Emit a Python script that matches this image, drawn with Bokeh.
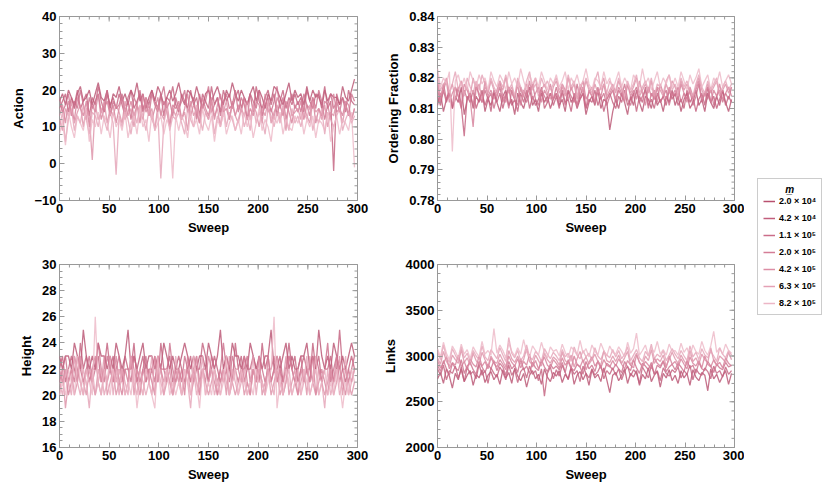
import numpy as np
from bokeh.plotting import figure
from bokeh.models import FixedTicker, Legend, LegendItem, Range1d, NumeralTickFormatter
from bokeh.layouts import row, column
from bokeh.embed import file_html
from bokeh.resources import INLINE

# ---------------- data ----------------
sweeps = list(range(0, 300, 3))
masses = ["2.0 × 10⁴", "4.2 × 10⁴", "1.1 × 10⁵", "2.0 × 10⁵", "4.2 × 10⁵", "6.3 × 10⁵", "8.2 × 10⁵"]

action_1 = [17,19,16,20,18,15,19,21,17,18,20,16,19,22,18,17,20,15,19,18,
            21,17,19,16,20,18,22,17,19,15,18,20,17,21,19,16,18,20,17,19,
            22,18,16,20,19,17,21,18,15,19,20,17,19,21,18,16,20,18,22,19,
            17,20,18,16,19,21,17,20,18,15,19,17,21,20,18,16,19,22,17,20,
            18,19,16,21,17,20,18,19,15,20,17,19,18,18,16,21,18,17,20,23]
action_2 = [15,17,19,14,18,16,20,15,17,19,13,18,16,21,17,14,19,16,18,15,
            19,16,13,18,20,15,17,19,14,18,16,20,17,15,19,13,18,17,21,16,
            14,19,17,15,20,16,18,13,19,17,15,21,16,18,14,20,17,19,15,18,
            20,15,18,16,19,14,21,17,15,18,20,16,19,13,17,20,15,18,16,19,
            16,18,14,20,17,15,19,18,16,21,15,17,-2,19,16,18,14,20,17,16]
action_3 = [18,14,16,19,13,17,15,20,16,12,18,15,17,19,14,16,20,13,17,15,
            16,19,14,17,12,18,16,20,15,17,13,19,16,14,18,21,15,17,13,18,
            15,17,20,14,16,18,12,19,15,17,21,14,16,18,13,17,19,15,16,20,
            14,18,16,12,19,17,15,20,13,16,18,14,17,21,15,18,12,16,19,15,
            17,14,19,16,13,18,15,20,17,12,16,19,15,17,14,18,16,13,19,17]
action_4 = [13,16,11,17,14,12,18,15,13,17,10,16,14,19,12,15,17,13,16,11,
            15,18,12,14,17,13,16,11,19,14,16,12,15,18,13,17,14,10,16,15,
            17,12,15,19,13,16,14,11,18,15,13,17,12,16,19,14,15,12,17,13,
            16,14,18,12,15,13,17,16,11,19,14,15,12,18,16,13,17,14,11,16,
            14,17,12,16,15,18,11,15,13,17,16,12,19,14,15,13,17,16,12,15]
action_5 = [12,9,15,13,17,11,14,16,10,15,13,1,16,12,14,17,11,15,13,16,
            14,11,17,13,15,10,16,14,12,18,13,15,9,16,14,12,17,11,15,13,
            16,12,14,9,17,13,15,11,16,14,12,18,13,15,10,14,17,12,16,13,
            11,15,13,17,12,16,14,10,15,13,17,11,14,16,12,15,9,17,13,14,
            15,12,16,13,11,17,14,15,12,16,10,14,13,17,15,11,16,14,12,15]
action_6 = [10,14,6,12,15,9,13,11,16,12,8,14,13,10,15,12,9,14,11,-3,
            13,10,15,12,8,14,11,16,13,9,15,12,10,14,-4,11,15,9,13,12,
            14,11,8,15,12,10,16,13,9,14,12,15,8,13,11,16,10,14,12,9,
            12,15,10,13,9,16,11,14,12,8,15,13,10,14,11,16,12,9,15,11,
            13,10,14,12,16,9,13,11,15,8,14,12,10,13,15,9,12,14,11,13]
action_7 = [8,12,5,14,10,7,13,11,9,15,6,12,10,14,8,13,11,7,14,10,
            12,9,14,7,11,13,8,15,10,12,6,14,9,11,13,8,12,10,-4,13,
            9,13,11,7,14,10,12,8,15,11,9,13,6,12,10,14,8,11,13,9,
            12,8,14,10,13,7,11,15,9,12,10,6,13,11,14,8,12,10,9,13,
            11,14,8,12,10,13,7,12,11,9,14,6,10,13,8,12,11,9,14,-1]

order_1 = [.811,.815,.809,.813,.816,.810,.814,.812,.817,.808,.813,.815,.810,.814,.812,.816,.809,.813,.811,.815,
           .812,.809,.814,.816,.811,.813,.808,.815,.812,.810,.814,.817,.811,.813,.809,.815,.812,.814,.810,.813,
           .815,.811,.813,.809,.816,.812,.814,.810,.813,.815,.808,.812,.814,.811,.816,.810,.813,.812,.803,.809,
           .813,.810,.815,.812,.808,.814,.811,.816,.812,.809,.814,.813,.810,.815,.811,.813,.809,.814,.812,.816,
           .811,.814,.809,.813,.815,.810,.812,.816,.811,.813,.809,.815,.812,.810,.814,.811,.816,.812,.809,.813]
order_2 = [.814,.811,.816,.812,.815,.810,.813,.817,.811,.801,.814,.812,.816,.810,.813,.815,.811,.814,.809,.816,
           .812,.815,.810,.814,.817,.811,.813,.809,.815,.812,.816,.810,.814,.811,.813,.817,.810,.812,.815,.811,
           .814,.810,.816,.812,.813,.809,.815,.811,.814,.817,.810,.813,.812,.816,.811,.814,.809,.813,.815,.812,
           .810,.814,.812,.816,.811,.813,.815,.809,.814,.812,.817,.811,.813,.810,.815,.812,.814,.811,.816,.813,
           .815,.811,.813,.810,.816,.812,.814,.809,.813,.815,.811,.817,.812,.814,.810,.813,.816,.811,.814,.812]
order_3 = [.816,.812,.818,.813,.815,.811,.817,.814,.810,.816,.813,.815,.811,.818,.814,.812,.816,.813,.815,.810,
           .814,.817,.812,.815,.810,.816,.813,.811,.817,.814,.812,.815,.818,.813,.811,.816,.814,.812,.815,.813,
           .817,.813,.815,.811,.816,.814,.812,.818,.813,.815,.810,.816,.814,.812,.817,.813,.815,.811,.814,.816,
           .812,.816,.814,.818,.813,.811,.815,.817,.812,.814,.816,.810,.815,.813,.817,.812,.814,.816,.811,.815,
           .814,.817,.812,.815,.813,.816,.811,.814,.818,.812,.815,.813,.817,.811,.814,.816,.812,.815,.813,.817]
order_4 = [.818,.813,.816,.819,.812,.815,.817,.814,.811,.818,.816,.813,.804,.817,.815,.812,.819,.814,.816,.813,
           .816,.819,.814,.812,.817,.815,.813,.818,.811,.816,.814,.819,.813,.815,.817,.812,.816,.814,.818,.813,
           .815,.812,.818,.816,.813,.817,.814,.811,.816,.819,.813,.815,.817,.812,.816,.814,.818,.813,.815,.817,
           .813,.817,.815,.812,.818,.814,.816,.813,.819,.815,.811,.817,.814,.816,.812,.818,.815,.813,.817,.814,
           .816,.813,.818,.815,.812,.817,.814,.816,.819,.813,.815,.817,.812,.816,.814,.818,.813,.815,.817,.814]
order_5 = [.819,.814,.817,.820,.815,.818,.813,.816,.819,.815,.817,.814,.820,.816,.818,.813,.817,.815,.819,.816,
           .814,.818,.816,.820,.815,.817,.813,.819,.816,.814,.818,.815,.817,.820,.814,.816,.818,.815,.813,.817,
           .819,.815,.817,.814,.820,.816,.818,.813,.817,.815,.819,.816,.814,.818,.815,.817,.820,.814,.816,.818,
           .815,.819,.816,.813,.818,.815,.817,.820,.814,.816,.818,.815,.819,.813,.817,.816,.814,.818,.815,.819,
           .817,.814,.819,.816,.818,.815,.813,.817,.820,.816,.814,.818,.815,.817,.819,.814,.816,.818,.815,.817]
order_6 = [.821,.816,.818,.819,.815,.818,.822,.816,.819,.814,.820,.817,.815,.819,.816,.821,.818,.815,.820,.817,
           .815,.819,.817,.821,.816,.818,.814,.820,.817,.815,.819,.822,.816,.818,.815,.820,.817,.819,.816,.818,
           .820,.816,.818,.815,.821,.817,.819,.814,.818,.816,.820,.817,.815,.819,.822,.816,.818,.815,.819,.817,
           .816,.820,.817,.814,.819,.816,.818,.821,.815,.817,.819,.816,.820,.814,.818,.817,.815,.819,.821,.816,
           .818,.815,.820,.817,.819,.816,.814,.818,.821,.817,.815,.819,.816,.818,.820,.815,.817,.819,.816,.818]
order_7 = [.823,.817,.820,.818,.822,.796,.819,.821,.817,.820,.816,.822,.819,.817,.821,.818,.820,.816,.822,.819,
           .817,.821,.819,.816,.822,.818,.820,.817,.823,.819,.816,.821,.818,.820,.817,.822,.819,.816,.820,.818,
           .821,.817,.819,.822,.816,.820,.818,.821,.817,.819,.823,.818,.816,.820,.819,.817,.822,.818,.820,.816,
           .819,.822,.817,.820,.818,.816,.821,.819,.817,.823,.818,.820,.816,.819,.822,.817,.820,.818,.821,.817,
           .820,.817,.822,.819,.816,.821,.818,.820,.823,.817,.819,.821,.816,.820,.818,.822,.817,.819,.821,.818]

height_1 = [23,22,23,23,22,24,23,22,25,23,22,23,22,24,23,23,22,23,22,24,
            23,22,23,25,22,23,22,23,24,22,23,23,22,23,22,24,23,22,23,22,
            22,23,24,23,22,23,22,23,23,22,24,23,22,23,25,22,23,22,24,23,
            23,22,23,22,24,23,22,23,22,23,23,25,22,23,22,23,24,22,23,22,
            22,23,23,24,22,23,22,25,23,22,23,22,24,23,22,23,22,23,24,23]
height_2 = [22,23,21,22,23,22,21,24,22,23,21,22,22,23,21,22,24,22,23,21,
            22,21,23,22,22,24,21,22,23,21,22,22,23,21,24,22,22,23,21,22,
            23,22,21,22,23,21,22,22,24,23,21,22,23,22,21,22,23,22,21,24,
            22,23,21,22,22,23,22,21,24,22,23,21,22,22,23,21,22,24,22,23,
            21,22,23,22,21,24,22,23,21,22,22,23,21,22,25,22,21,22,23,22]
height_3 = [21,22,23,21,22,21,23,22,21,22,23,21,22,24,22,21,23,22,21,22,
            23,21,22,22,21,23,22,21,22,23,21,22,21,23,22,22,21,24,22,21,
            22,21,23,22,21,22,23,21,22,22,21,23,22,21,22,24,22,21,23,22,
            21,22,22,23,21,22,21,23,22,21,22,22,23,21,22,21,22,23,22,21,
            22,23,21,22,22,21,23,22,21,22,24,21,22,23,21,22,22,21,22,23]
height_4 = [22,21,22,20,21,23,22,21,20,22,21,22,23,21,20,22,21,22,21,23,
            21,20,22,21,23,22,21,20,22,21,22,21,20,23,22,21,22,21,20,22,
            21,22,20,23,21,22,21,20,22,21,23,22,21,20,22,21,22,20,21,22,
            22,21,23,21,20,22,21,22,21,20,23,21,22,21,22,20,21,23,22,21,
            20,22,21,22,21,23,20,21,22,21,20,22,21,23,22,21,20,22,21,22]
height_5 = [20,22,19,21,22,20,21,23,21,20,22,21,20,22,21,23,20,21,22,20,
            21,22,20,21,23,20,22,21,20,22,21,20,23,21,22,20,21,22,20,21,
            22,20,21,22,20,21,23,20,22,21,20,21,22,20,21,22,20,23,21,20,
            21,22,20,21,20,22,21,23,20,21,22,20,21,22,20,21,23,20,21,22,
            20,21,22,20,23,21,20,22,21,20,21,22,20,21,23,20,22,21,20,21]
height_6 = [21,20,22,21,20,23,21,20,22,21,19,22,20,21,22,20,21,23,20,22,
            20,22,21,20,23,21,20,22,21,20,21,23,20,22,21,20,22,21,20,23,
            21,20,22,21,19,22,20,21,23,20,21,22,20,21,20,22,21,20,22,21,
            20,21,22,20,21,23,20,22,21,20,22,21,20,23,21,20,21,22,20,21,
            22,20,21,23,20,21,22,20,21,19,22,20,21,22,20,21,23,20,21,22]
height_7 = [20,21,20,22,21,20,23,21,20,22,21,20,26,21,20,22,21,20,22,21,
            22,21,20,21,20,22,19,21,20,22,21,20,19,23,20,21,22,20,21,20,
            21,20,22,21,20,23,21,19,22,20,21,20,22,21,20,21,23,20,21,22,
            20,22,21,20,21,20,22,21,21,20,21,22,26,19,21,20,22,21,20,21,
            21,20,22,21,20,21,23,20,21,22,20,21,20,22,21,19,21,20,22,21]

links_1 = [2750,2820,2700,2860,2780,2650,2810,2740,2880,2720,2790,2840,2680,2800,2760,2850,2710,2790,2830,2740,
           2800,2690,2850,2760,2820,2700,2870,2780,2730,2810,2660,2790,2840,2750,2800,2690,2860,2770,2720,2820,
           2780,2840,2710,2800,2750,2880,2690,2790,2830,2740,2810,2680,2850,2760,2800,2720,2870,2740,2600,2790,
           2820,2730,2790,2860,2700,2810,2770,2840,2680,2800,2750,2870,2720,2790,2830,2660,2810,2760,2850,2730,
           2790,2700,2840,2760,2810,2680,2850,2770,2730,2820,2790,2620,2860,2750,2800,2710,2780,2840,2690,2810]
links_2 = [2860,2790,2900,2740,2840,2810,2890,2760,2850,2720,2880,2800,2830,2750,2910,2790,2840,2700,2870,2810,
           2770,2880,2820,2740,2900,2790,2850,2710,2830,2870,2760,2890,2800,2840,2730,2860,2560,2810,2880,2750,
           2850,2780,2900,2820,2740,2870,2800,2840,2720,2890,2810,2760,2860,2790,2830,2900,2750,2840,2800,2870,
           2790,2860,2740,2830,2890,2780,2850,2810,2700,2880,2820,2760,2900,2800,2840,2730,2870,2810,2780,2850,
           2820,2880,2760,2840,2800,2900,2740,2860,2810,2790,2870,2830,2750,2890,2810,2840,2770,2880,2800,2840]
links_3 = [2900,2830,2950,2860,2790,2920,2870,2840,2960,2810,2890,2930,2850,2800,2940,2880,2820,2910,2860,2950,
           2840,2920,2880,2790,2940,2860,2900,2820,2970,2850,2890,2810,2930,2870,2840,2960,2880,2830,2910,2860,
           2890,2850,2930,2820,2960,2870,2840,2910,2880,2800,2940,2860,2900,2830,2950,2870,2820,2920,2890,2850,
           2910,2860,2820,2940,2880,2840,2960,2870,2810,2920,2890,2850,2930,2800,2900,2870,2940,2830,2880,2910,
           2850,2920,2880,2830,2950,2870,2900,2810,2930,2860,2840,2940,2890,2820,2910,2870,2850,2930,2880,2900]
links_4 = [2950,2870,2920,2990,2860,2930,2900,3010,2880,2940,2850,2970,2910,2880,3000,2890,2940,2860,2980,2920,
           2880,2960,2910,2850,3000,2930,2890,2970,2870,2940,2900,3020,2880,2950,2860,2930,2990,2900,2870,2960,
           2920,2870,2980,2900,2940,2860,3000,2910,2880,2960,2850,2930,2990,2890,2940,2870,2960,2900,2880,2950,
           2890,2970,2910,2860,2950,2900,2870,3010,2930,2880,2940,2900,2860,2980,2920,2890,2950,2870,3000,2910,
           2940,2880,2970,2910,2860,2990,2920,2890,2950,2870,3000,2910,2880,2960,2900,2930,2870,2980,2920,2890]
links_5 = [2980,2910,3050,2940,2890,3010,2960,2920,3070,2930,2980,2900,3030,2950,2910,3040,2960,2890,3000,2940,
           2920,3020,2950,2880,3060,2970,2930,3000,2910,2960,3080,2940,2900,3010,2950,2890,3030,2960,2920,2990,
           2960,2900,3040,2950,2920,3010,2880,2970,3050,2930,2990,2910,2960,3020,2940,2900,3060,2950,2930,3000,
           2940,3010,2920,2980,3050,2900,2960,3030,2930,2890,3000,2950,3070,2920,2970,2940,3010,2890,2960,3040,
           2970,2920,3010,2950,2900,3060,2940,2980,2910,3020,2960,2930,3090,2950,2900,3000,2970,2930,3040,2960]
links_6 = [3050,2960,3120,2990,2930,3080,3010,2950,3100,2980,3030,2940,3060,3000,2960,3110,2990,2950,3070,3020,
           2970,3090,3010,2940,3200,3030,2980,3060,2950,3000,3120,2990,2960,3050,3010,2940,3080,3020,2970,3040,
           3000,2950,3070,2990,3030,2940,3100,3010,2970,3060,2990,3030,2950,3090,3000,2960,3050,3010,2980,3070,
           2990,3060,2970,3020,3100,2950,3010,3070,2980,2940,3050,3000,3130,2970,3020,2990,3060,2950,3010,3080,
           3020,2970,3060,3000,2950,3110,2990,3040,2960,3080,3010,2980,3050,3000,2940,3090,3020,2980,3060,3010]
links_7 = [3080,2990,3150,3030,2960,3110,3050,2980,3130,3020,3070,2970,3100,3040,2990,3160,3020,3060,3010,3300,
           3030,3120,3060,2980,3140,3050,3000,3090,3020,3180,3040,2990,3110,3060,3010,3150,3040,2980,3100,3050,
           3070,3000,3130,3040,2980,3100,3060,3010,3170,3030,3080,2990,3120,3050,3010,3140,3060,3000,3110,3040,
           3020,3100,3050,2990,3150,3030,3080,3250,3010,3060,3120,3000,3090,3040,3160,3020,3070,3010,3130,3050,
           3060,3010,3140,3040,3090,2990,3120,3050,3020,3160,3060,3010,3110,3270,3040,3090,3020,3130,3060,3030]

x_ticks = [0, 50, 100, 150, 200, 250, 300]
action_ticks = [-10, 0, 10, 20, 30, 40]
order_ticks = [0.78, 0.79, 0.80, 0.81, 0.82, 0.83, 0.84]
height_ticks = [16, 18, 20, 22, 24, 26, 28, 30]
links_ticks = [2000, 2500, 3000, 3500, 4000]

# ---------------- style ----------------
colors = ["#b8506f", "#c25e7c", "#cb6d89", "#d47d97", "#dc8ea5", "#e4a1b5", "#ecb6c6"]
FONT = "Liberation Sans"
FRAME = "#999999"


def style_axis(ax, ticker):
    ax.ticker = ticker
    ax.axis_line_color = None
    ax.major_tick_in = 5
    ax.major_tick_out = 0
    ax.minor_tick_in = 3
    ax.minor_tick_out = 0
    ax.major_tick_line_color = FRAME
    ax.minor_tick_line_color = FRAME
    ax.major_label_text_font = FONT
    ax.major_label_text_font_style = "bold"
    ax.major_label_text_font_size = "13px"
    ax.major_label_text_color = "black"
    ax.major_label_standoff = 3
    ax.axis_label_text_font = FONT
    ax.axis_label_text_font_style = "bold"
    ax.axis_label_text_font_size = "13px"
    ax.axis_label_text_color = "black"


def panel(series, ylabel, yticks, yminor_step, width, height, bl, br, bt, bb, formatter=None, overrides=None):
    y0, y1 = yticks[0], yticks[-1]
    p = figure(width=width, height=height, x_range=Range1d(0, 300), y_range=Range1d(y0, y1),
               output_backend="svg", toolbar_location=None,
               min_border_left=bl, min_border_right=br, min_border_top=bt, min_border_bottom=bb)
    p.grid.visible = False
    p.outline_line_color = FRAME
    p.outline_line_width = 1
    p.background_fill_color = "white"
    p.border_fill_color = "white"

    x_minor = list(np.arange(0, 301, 10))
    y_minor = list(np.round(np.arange(y0, y1 + yminor_step / 2, yminor_step), 6))

    xa = p.xaxis[0]
    style_axis(xa, FixedTicker(ticks=x_ticks, minor_ticks=x_minor))
    xa.axis_label = "Sweep"
    xa.axis_label_standoff = 4
    ya = p.yaxis[0]
    style_axis(ya, FixedTicker(ticks=yticks, minor_ticks=y_minor))
    ya.axis_label = ylabel
    ya.axis_label_standoff = 5
    if formatter is not None:
        ya.formatter = formatter
    if overrides:
        ya.major_label_overrides = overrides

    for ys, c in zip(series, colors):
        p.line(sweeps, ys, line_color=c, line_width=1.3, line_alpha=0.8)

    # frame ticks on the top and right edges (clipped to the frame, so only the inner half shows)
    p.scatter(x=x_ticks, y=[y1] * len(x_ticks), marker="dash", angle=np.pi / 2, size=10,
              line_color=FRAME, line_width=1)
    p.scatter(x=x_minor, y=[y1] * len(x_minor), marker="dash", angle=np.pi / 2, size=6,
              line_color=FRAME, line_width=1)
    p.scatter(x=[300] * len(yticks), y=yticks, marker="dash", size=10, line_color=FRAME, line_width=1)
    p.scatter(x=[300] * len(y_minor), y=y_minor, marker="dash", size=6, line_color=FRAME, line_width=1)
    return p


p_action = panel([action_1, action_2, action_3, action_4, action_5, action_6, action_7], "Action",
                 action_ticks, 2, 377, 248, 59, 20, 16, 48, overrides={-10: "−10"})
p_order = panel([order_1, order_2, order_3, order_4, order_5, order_6, order_7], "Ordering Fraction",
                order_ticks, 0.002, 367, 248, 60, 10, 16, 48, formatter=NumeralTickFormatter(format="0.00"))
p_height = panel([height_1, height_2, height_3, height_4, height_5, height_6, height_7], "Height",
                 height_ticks, 0.5, 377, 238, 59, 20, 16, 39)
p_links = panel([links_1, links_2, links_3, links_4, links_5, links_6, links_7], "Links",
                links_ticks, 100, 367, 238, 60, 10, 16, 39)

# legend panel
lf = figure(width=84, height=486, x_range=Range1d(0, 1), y_range=Range1d(0, 1),
            x_axis_type=None, y_axis_type=None, output_backend="svg", toolbar_location=None,
            min_border=0)
lf.grid.visible = False
lf.outline_line_color = None
items = []
for c, lab in zip(colors, masses):
    r = lf.line(x=[5, 6], y=[5, 6], line_color=c, line_width=1.5)
    items.append(LegendItem(label=lab, renderers=[r]))
leg = Legend(items=items, location=(13, 171), title="\u00a0" * 8 + "m\u0332",
             title_text_font=FONT, title_text_font_style="bold italic", title_text_font_size="10px",
             title_text_color="black", title_standoff=0,
             label_text_font=FONT, label_text_font_style="bold", label_text_font_size="9px",
             label_text_color="black",
             label_height=12, glyph_height=12, glyph_width=12, label_standoff=4, spacing=5,
             padding=5, margin=0, border_line_color=FRAME, border_line_width=1,
             background_fill_color="white", background_fill_alpha=1.0)
lf.add_layout(leg, "center")

layout = row(column(p_action, p_height), column(p_order, p_links), lf)

open("out.html", "w").write(file_html(layout, INLINE))
